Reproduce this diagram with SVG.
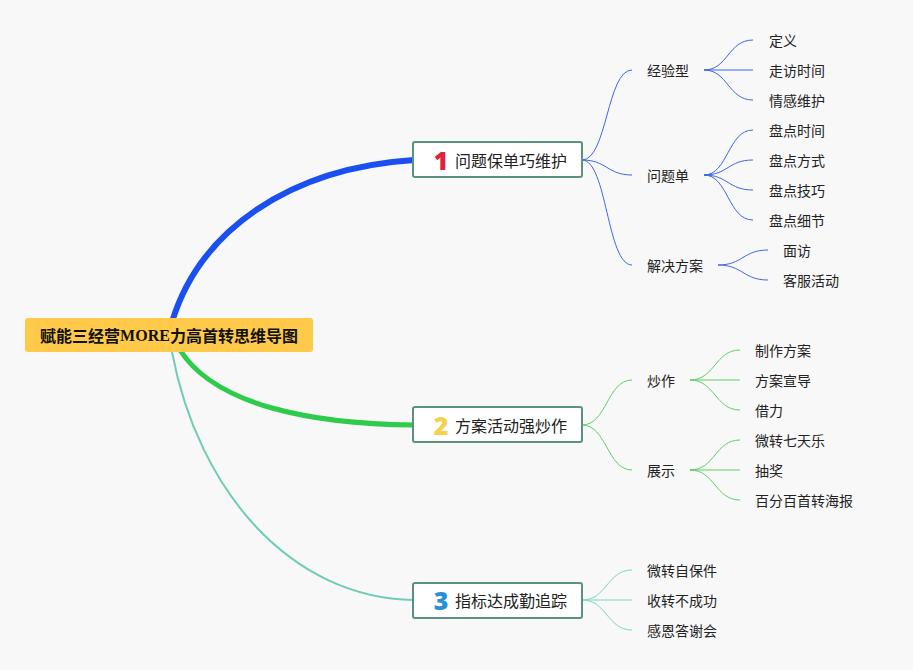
<svg xmlns="http://www.w3.org/2000/svg" width="913" height="670" viewBox="0 0 913 670">
<style>
.t{font-family:"Noto Sans CJK SC","Noto Sans",sans-serif;font-size:14px;fill:#222;dominant-baseline:central}
.m{font-family:"Noto Sans CJK SC","Noto Sans",sans-serif;font-size:16px;fill:#222;dominant-baseline:central}
.n{font-family:"Open Sans","Noto Sans",sans-serif;font-size:25px;font-weight:800;dominant-baseline:central;text-anchor:middle}
.box{fill:#fff;stroke:#5c9080;stroke-width:2}
.b{fill:none;stroke:#3e66e0;stroke-width:1}
.g{fill:none;stroke:#5ccf67;stroke-width:1}
.c{fill:none;stroke:#7fd4c1;stroke-width:1}
</style>
<rect width="913" height="670" fill="#f8f8f8"/>
<g id="connectors">
<path d="M172,322 C200,230 290,168 414,160" fill="none" stroke="#1a4ff0" stroke-width="6"/>
<path d="M180,350 C215,405 310,424 414,425" fill="none" stroke="#2fcb4a" stroke-width="5"/>
<path d="M172,352 C198,490 290,598 414,600" fill="none" stroke="#6fcdb7" stroke-width="2"/>
<path class="b" d="M582,160 C607,160 607,70 632,70"/>
<path class="b" d="M582,160 C607,160 607,175 632,175"/>
<path class="b" d="M582,160 C607,160 607,265 632,265"/>
<path class="b" d="M704,70 C728,70 728,40 753,40"/>
<path class="b" d="M704,70 L753,70"/>
<path class="b" d="M704,70 C728,70 728,100 753,100"/>
<path class="b" d="M704,175 C728,175 728,130 753,130"/>
<path class="b" d="M704,175 C728,175 728,160 753,160"/>
<path class="b" d="M704,175 C728,175 728,190 753,190"/>
<path class="b" d="M704,175 C728,175 728,220 753,220"/>
<path class="b" d="M718,265 C743,265 743,250 768,250"/>
<path class="b" d="M718,265 C743,265 743,280 768,280"/>
<path class="g" d="M582,425 C607,425 607,380 632,380"/>
<path class="g" d="M582,425 C607,425 607,470 632,470"/>
<path class="g" d="M690,380 C715,380 715,350 740,350"/>
<path class="g" d="M690,380 L740,380"/>
<path class="g" d="M690,380 C715,380 715,410 740,410"/>
<path class="g" d="M690,470 C715,470 715,440 740,440"/>
<path class="g" d="M690,470 L740,470"/>
<path class="g" d="M690,470 C715,470 715,500 740,500"/>
<path class="c" d="M582,600 C607,600 607,570 632,570"/>
<path class="c" d="M582,600 L632,600"/>
<path class="c" d="M582,600 C607,600 607,630 632,630"/>
</g>
<g id="root">
<rect x="25" y="318" width="288" height="34" rx="3" fill="#ffc94a"/>
<text x="169" y="335" text-anchor="middle" style="font-family:'Noto Sans CJK SC',sans-serif;font-size:16px;font-weight:700;fill:#111;dominant-baseline:central">赋能三经营<tspan style="font-family:'Liberation Serif',serif">MORE</tspan>力高首转思维导图</text>
</g>
<g id="n1">
<rect class="box" x="413" y="142" width="169" height="35" rx="2"/>
<text class="n" x="441" y="160" fill="#e0233a">1</text>
<text class="m" x="455" y="160">问题保单巧维护</text>
</g>
<g id="n2">
<rect class="box" x="413" y="407" width="169" height="35" rx="2"/>
<text class="n" x="441" y="425" fill="#f5d04a">2</text>
<text class="m" x="455" y="425">方案活动强炒作</text>
</g>
<g id="n3">
<rect class="box" x="413" y="583" width="169" height="35" rx="2"/>
<text class="n" x="441" y="600" fill="#2a8fd9">3</text>
<text class="m" x="455" y="600">指标达成勤追踪</text>
</g>
<g id="n1a"><text class="t" x="647" y="70">经验型</text></g>
<g id="n1b"><text class="t" x="647" y="175">问题单</text></g>
<g id="n1c"><text class="t" x="647" y="265">解决方案</text></g>
<g id="l1"><text class="t" x="769" y="40">定义</text></g>
<g id="l2"><text class="t" x="769" y="70">走访时间</text></g>
<g id="l3"><text class="t" x="769" y="100">情感维护</text></g>
<g id="l4"><text class="t" x="769" y="130">盘点时间</text></g>
<g id="l5"><text class="t" x="769" y="160">盘点方式</text></g>
<g id="l6"><text class="t" x="769" y="190">盘点技巧</text></g>
<g id="l7"><text class="t" x="769" y="220">盘点细节</text></g>
<g id="l8"><text class="t" x="783" y="250">面访</text></g>
<g id="l9"><text class="t" x="783" y="280">客服活动</text></g>
<g id="n2a"><text class="t" x="647" y="380">炒作</text></g>
<g id="n2b"><text class="t" x="647" y="470">展示</text></g>
<g id="l10"><text class="t" x="755" y="350">制作方案</text></g>
<g id="l11"><text class="t" x="755" y="380">方案宣导</text></g>
<g id="l12"><text class="t" x="755" y="410">借力</text></g>
<g id="l13"><text class="t" x="755" y="440">微转七天乐</text></g>
<g id="l14"><text class="t" x="755" y="470">抽奖</text></g>
<g id="l15"><text class="t" x="755" y="500">百分百首转海报</text></g>
<g id="l16"><text class="t" x="647" y="570">微转自保件</text></g>
<g id="l17"><text class="t" x="647" y="600">收转不成功</text></g>
<g id="l18"><text class="t" x="647" y="630">感恩答谢会</text></g>
</svg>
